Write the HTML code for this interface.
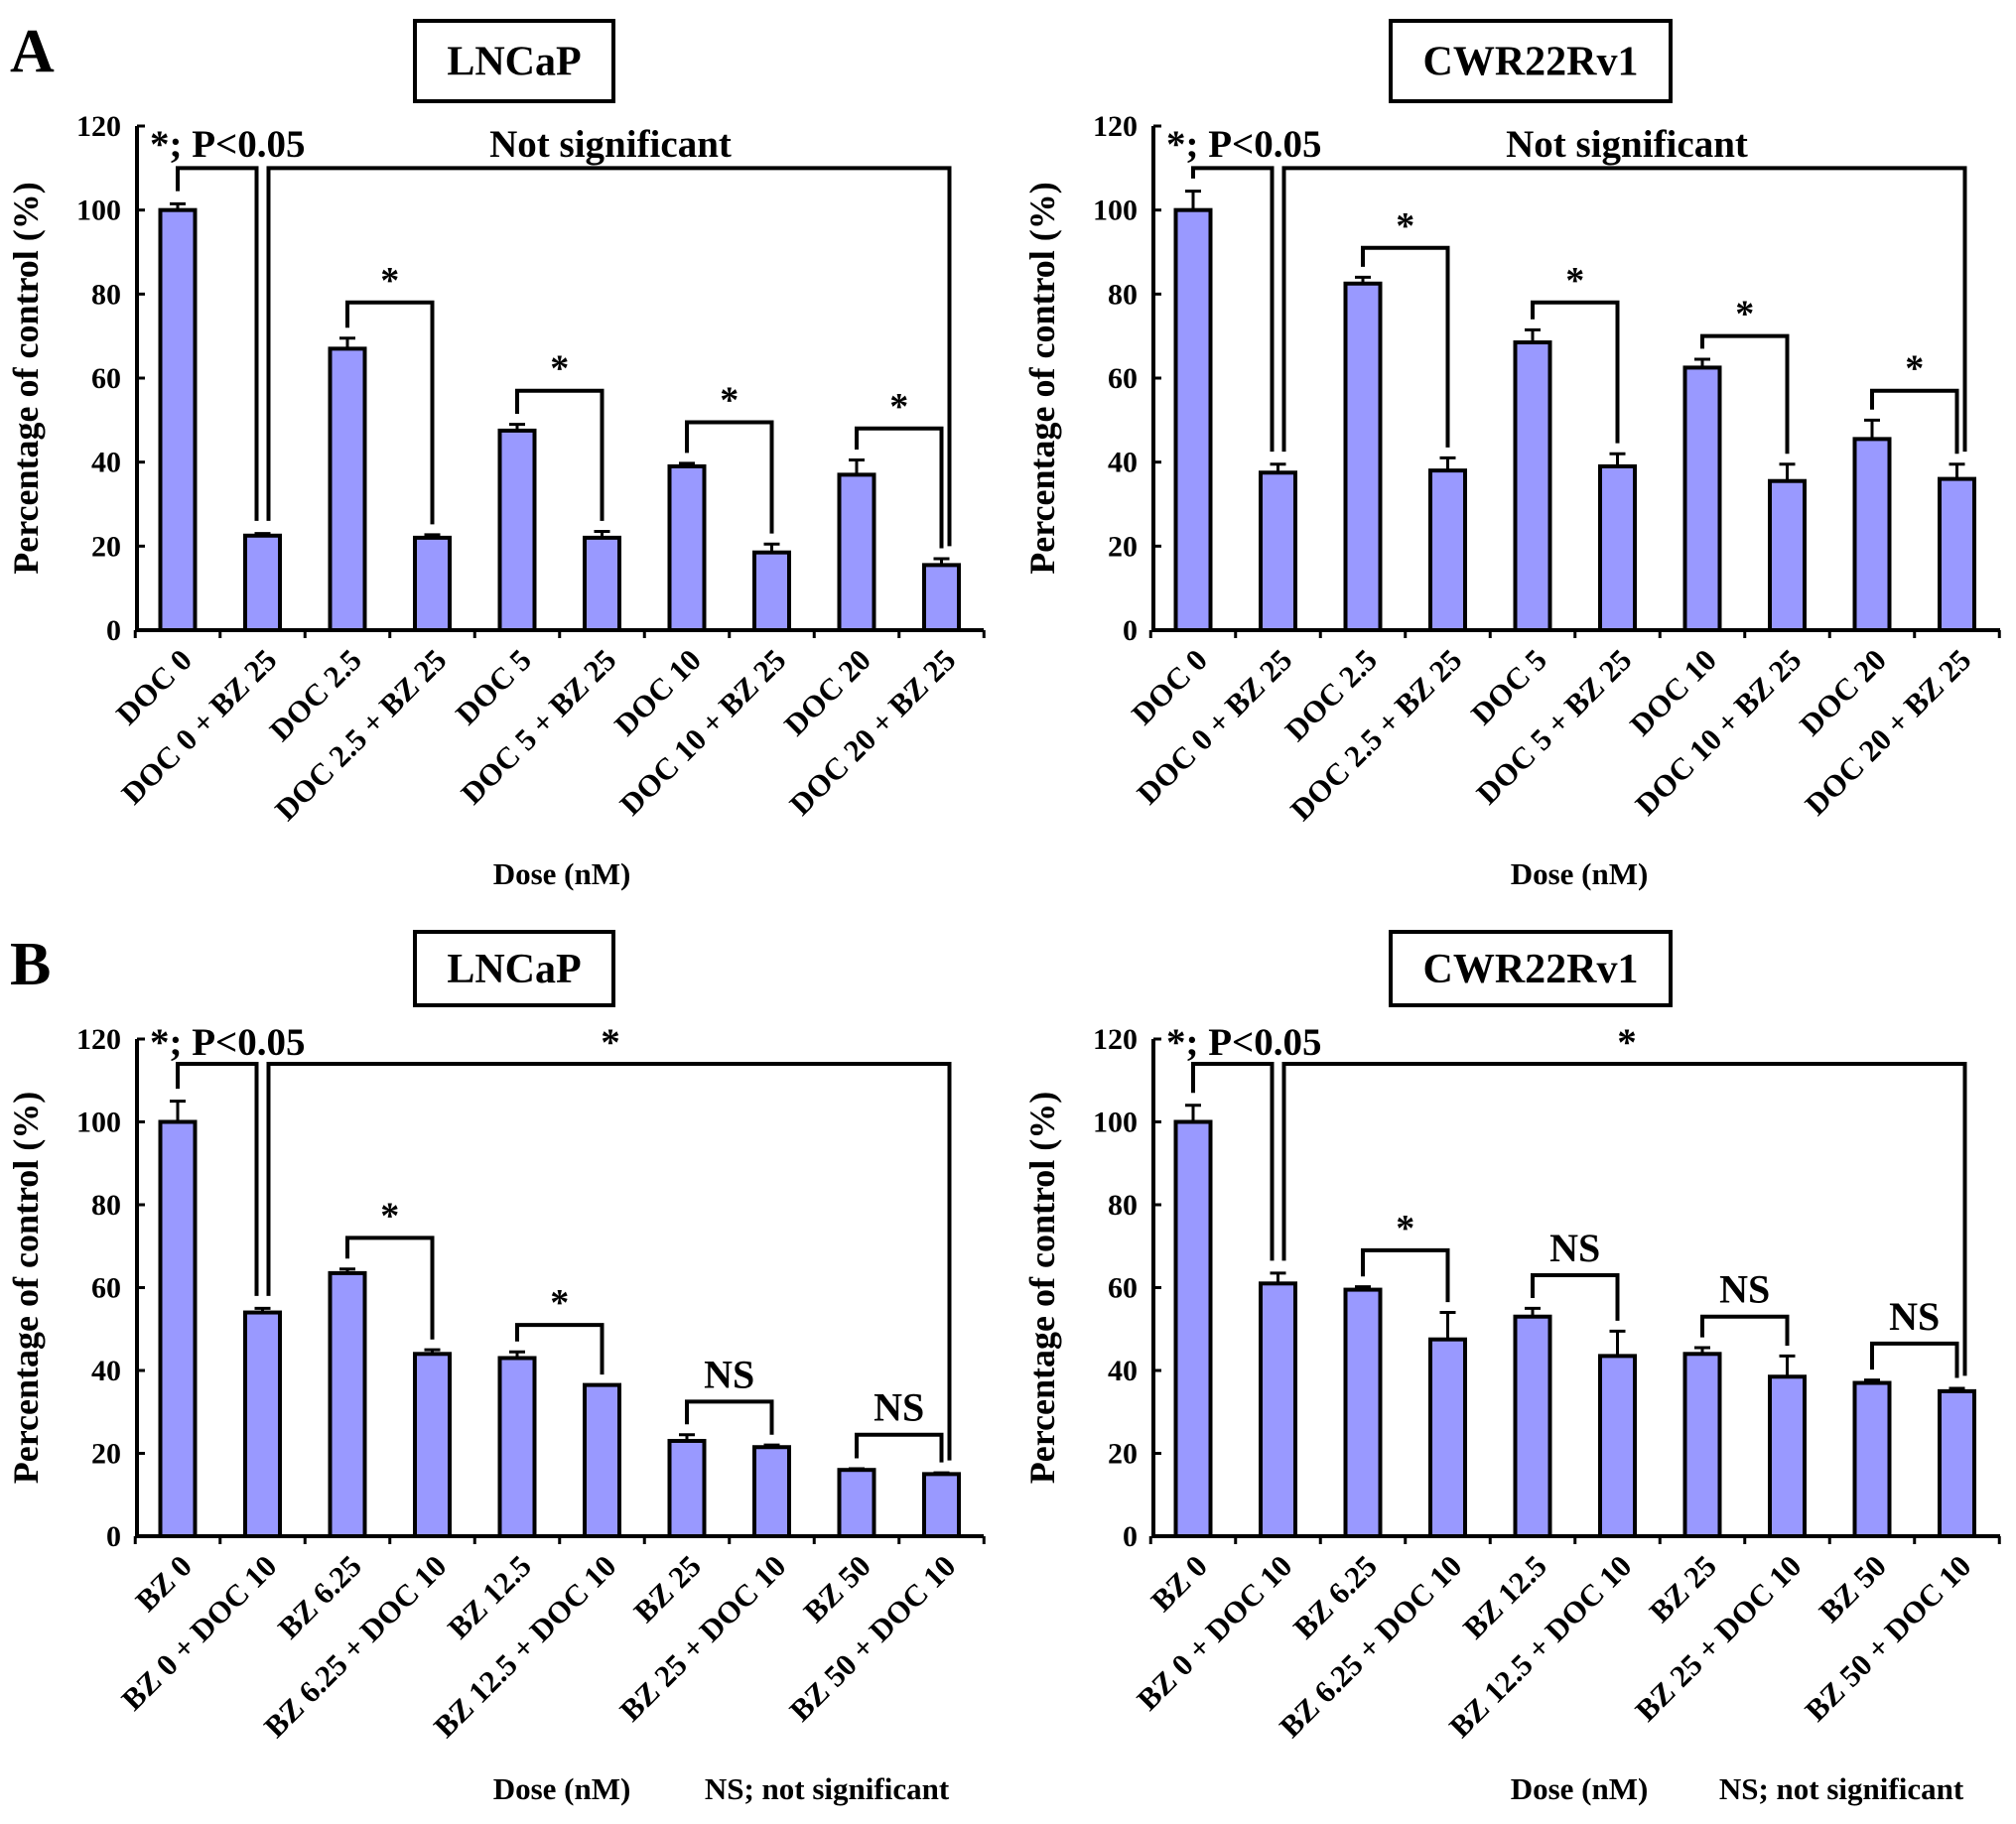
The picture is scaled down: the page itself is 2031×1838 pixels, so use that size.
<!DOCTYPE html>
<html><head><meta charset="utf-8"><style>
html,body{margin:0;padding:0;background:#fff}
svg{display:block}
text{font-family:"Liberation Serif",serif;font-weight:bold;fill:#000}
</style></head><body>
<svg id="fig" width="2031" height="1838" viewBox="0 0 2031 1838" xmlns="http://www.w3.org/2000/svg"></svg>
<script>
const catsA = ["DOC 0","DOC 0 + BZ 25","DOC 2.5","DOC 2.5 + BZ 25","DOC 5","DOC 5 + BZ 25","DOC 10","DOC 10 + BZ 25","DOC 20","DOC 20 + BZ 25"];
const catsB = ["BZ 0","BZ 0 + DOC 10","BZ 6.25","BZ 6.25 + DOC 10","BZ 12.5","BZ 12.5 + DOC 10","BZ 25","BZ 25 + DOC 10","BZ 50","BZ 50 + DOC 10"];
const valsAL = [100,22.5,67,22,47.5,22,39,18.5,37,15.5];
const errAL  = [1.5,0.5,2.5,0.7,1.5,1.5,0.7,2,3.5,1.5];
const valsAR = [100,37.5,82.5,38,68.5,39,62.5,35.5,45.5,36];
const errAR  = [4.5,2,1.5,3,3,3,2,4,4.5,3.5];
const valsBL = [100,54,63.5,44,43,36.5,23,21.5,16,15];
const errBL  = [5,1,1,1,1.5,0,1.5,0.5,0.3,0.3];
const valsBR = [100,61,59.5,47.5,53,43.5,44,38.5,37,35];
const errBR  = [4,2.5,0.7,6.5,2,6,1.5,5,0.7,0.7];
const pairAL = [78,57,49.5,48];
const pairAR = [91,78,70,57];
const pairBL = [72,51,32.5,24.5];
const pairBR = [69,63,53,46.5];
const pairLabelsA = ["*","*","*","*"];
const pairLabelsBL = ["*","*","NS","NS"];
const pairLabelsBR = ["*","NS","NS","NS"];
const yTicks = [0,20,40,60,80,100,120];

const NS="http://www.w3.org/2000/svg";
const svg=document.getElementById('fig');
function mk(tag,attrs,parent,txt){const e=document.createElementNS(NS,tag);for(const k in attrs)e.setAttribute(k,attrs[k]);if(txt!==undefined)e.textContent=txt;(parent||svg).appendChild(e);return e;}

function panel(o){
  const g=mk('g',{});
  
  
  const y=v=>o.y0-(o.y0-o.y120)*v/120;
  const x=i=>o.x1+i*85.5;
  const bw=35;
  const tb=mk('rect',{x:o.boxX,y:o.boxY,width:o.boxW,height:o.boxH,fill:'#fff',stroke:'#000','stroke-width':4},g);
  
  
  const tt=mk('text',{x:o.boxX+o.boxW/2,y:o.boxY+o.boxH/2+14,'text-anchor':'middle','font-size':42},g,o.title);
  
  
  const ax=mk('path',{d:`M${o.ax} ${y(120)} L${o.ax} ${o.y0} L${o.axR} ${o.y0}`,fill:'none',stroke:'#000','stroke-width':4},g);
  
  
  yTicks.forEach(t=>{
    mk('line',{x1:o.ax,x2:o.ax+8,y1:y(t),y2:y(t),stroke:'#000','stroke-width':3},g);
    const tl=mk('text',{x:o.ax-16,y:y(t)+10,'text-anchor':'end','font-size':30},g,t);
    
    
  });
  for(let i=0;i<=10;i++){
    const tx=x(i)-42.75;
    mk('line',{x1:tx,x2:tx,y1:o.y0,y2:o.y0+8,stroke:'#000','stroke-width':3},g);
  }
  const yt=mk('text',{x:0,y:0,'text-anchor':'middle','font-size':36,transform:`translate(${o.ax-100},${y(60)}) rotate(-90)`},g,'Percentage of control (%)');
  
  
  o.vals.forEach((v,i)=>{
    const cx=x(i);
    const eb=mk('path',{d:`M${cx} ${y(v)} L${cx} ${y(v+o.err[i])} M${cx-8} ${y(v+o.err[i])} L${cx+8} ${y(v+o.err[i])}`,stroke:'#000','stroke-width':3,fill:'none'},g);
    
    
    const b=mk('rect',{x:cx-bw/2,y:y(v),width:bw,height:o.y0-y(v),fill:'#9999ff',stroke:'#000','stroke-width':4},g);
    
    
    const xl=mk('text',{x:0,y:0,'text-anchor':'end','font-size':31,transform:`translate(${cx+16},${o.y0+32}) rotate(-45)`},g,o.cats[i]);
    
    
  });
  const ty=y(o.topV);
  const c0=x(0),c1=x(1),c9=x(9);
  const d1=`M${c0} ${y(o.vals[0]+o.err[0]+3)} L${c0} ${ty} L${c1-6} ${ty} L${c1-6} ${y(o.vals[1]+o.err[1]+3)}`;
  const d2=`M${c1+6} ${y(o.vals[1]+o.err[1]+3)} L${c1+6} ${ty} L${c9+8} ${ty} L${c9+8} ${y(o.vals[9]+o.err[9]+3)}`;
  const br1=mk('path',{d:d1,fill:'none',stroke:'#000','stroke-width':4},g);
  
  
  const br2=mk('path',{d:d2,fill:'none',stroke:'#000','stroke-width':4},g);
  
  
  const pt=mk('text',{x:o.ax+13,y:o.y120+o.pOff,'font-size':39},g,o.pText);
  
  
  const ot=mk('text',{x:o.topLabelX,y:o.y120+o.pOff,'text-anchor':'middle','font-size':39},g,o.topLabel);
  
  
  o.pairs.forEach((pv,k)=>{
    const a=x(2*k+2),b=x(2*k+3),py=y(pv);
    const d=`M${a} ${y(o.vals[2*k+2]+o.err[2*k+2]+2.5)} L${a} ${py} L${b} ${py} L${b} ${y(o.vals[2*k+3]+o.err[2*k+3]+2.5)}`;
    const p=mk('path',{d:d,fill:'none',stroke:'#000','stroke-width':4},g);
    
    
    const lab=o.pairLabels[k];
    const t=mk('text',{x:(a+b)/2,y:py-(lab==='*'?10:14),'text-anchor':'middle','font-size':lab==='*'?38:40},g,lab);
    
    
  });
  const dl=mk('text',{x:o.doseX,y:o.doseY,'text-anchor':'middle','font-size':31},g,'Dose (nM)');
  
  
  if(o.nsNote){
    const nn=mk('text',{x:o.nsX,y:o.doseY,'text-anchor':'middle','font-size':31},g,'NS; not significant');
    
    
  }
}

const la=mk('text',{x:10,y:72,'font-size':62},svg,'A');


const lb=mk('text',{x:10,y:992,'font-size':62},svg,'B');



panel({name:'chart-a-lncap',title:'LNCaP',boxX:418,boxY:21,boxW:200,boxH:81,ax:138,axR:991,x1:179,y0:635,y120:127,vals:valsAL,err:errAL,cats:catsA,topV:110,pOff:31,pText:'*; P<0.05',topLabel:'Not significant',topLabelX:615,pairs:pairAL,pairLabels:pairLabelsA,doseX:566,doseY:891});
panel({name:'chart-a-cwr22rv1',title:'CWR22Rv1',boxX:1401,boxY:21,boxW:282,boxH:81,ax:1162,axR:2015,x1:1202,y0:635,y120:127,vals:valsAR,err:errAR,cats:catsA,topV:110,pOff:31,pText:'*; P<0.05',topLabel:'Not significant',topLabelX:1639,pairs:pairAR,pairLabels:pairLabelsA,doseX:1591,doseY:891});
panel({name:'chart-b-lncap',title:'LNCaP',boxX:418,boxY:939,boxW:200,boxH:74,ax:138,axR:991,x1:179,y0:1548,y120:1047,vals:valsBL,err:errBL,cats:catsB,topV:114,pOff:16,pText:'*;  P<0.05',topLabel:'*',topLabelX:615,pairs:pairBL,pairLabels:pairLabelsBL,doseX:566,doseY:1813,nsNote:true,nsX:833});
panel({name:'chart-b-cwr22rv1',title:'CWR22Rv1',boxX:1401,boxY:939,boxW:282,boxH:74,ax:1162,axR:2015,x1:1202,y0:1548,y120:1047,vals:valsBR,err:errBR,cats:catsB,topV:114,pOff:16,pText:'*; P<0.05',topLabel:'*',topLabelX:1639,pairs:pairBR,pairLabels:pairLabelsBR,doseX:1591,doseY:1813,nsNote:true,nsX:1855});
</script>
</body></html>
